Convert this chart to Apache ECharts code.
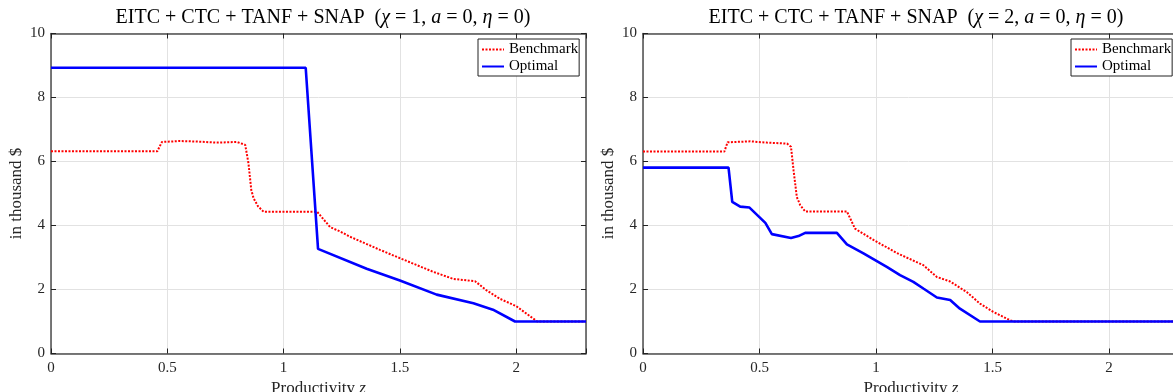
<!DOCTYPE html>
<html>
<head>
<meta charset="utf-8">
<script src="https://cdn.jsdelivr.net/npm/echarts@6/dist/echarts.min.js"></script>
<style>
html,body{margin:0;padding:0;background:#fff;}
#chart{width:1173px;height:392px;}
</style>
</head>
<body>
<div id="chart"></div>
<script>
// ---- data ----
const xTickLabels = ['0', '0.5', '1', '1.5', '2'];
const yTickLabels = ['0', '2', '4', '6', '8', '10'];

const benchLeftZ = [0, 0.457, 0.477, 0.555, 0.64, 0.713, 0.80, 0.835, 0.849, 0.861, 0.871, 0.89, 0.914, 1.144, 1.20, 1.244, 1.285, 1.414, 1.50, 1.644, 1.73, 1.823, 1.873, 1.93, 2.0, 2.081, 2.09, 2.3];
const benchLeftV = [6.32, 6.32, 6.61, 6.64, 6.62, 6.59, 6.61, 6.52, 5.94, 5.11, 4.85, 4.6, 4.43, 4.43, 3.95, 3.81, 3.65, 3.24, 2.98, 2.55, 2.33, 2.26, 1.97, 1.71, 1.48, 1.05, 1.0, 1.0];

const optLeftZ = [0, 1.095, 1.148, 1.357, 1.50, 1.658, 1.816, 1.90, 1.995, 2.3];
const optLeftV = [8.93, 8.93, 3.27, 2.65, 2.28, 1.84, 1.57, 1.37, 1.0, 1.0];

const benchRightZ = [0, 0.349, 0.363, 0.46, 0.532, 0.618, 0.635, 0.646, 0.66, 0.675, 0.696, 0.875, 0.91, 0.989, 1.089, 1.203, 1.261, 1.318, 1.389, 1.446, 1.503, 1.575, 1.59, 2.3];
const benchRightV = [6.31, 6.31, 6.6, 6.63, 6.59, 6.56, 6.46, 5.73, 4.89, 4.63, 4.44, 4.44, 3.9, 3.55, 3.14, 2.76, 2.39, 2.25, 1.92, 1.56, 1.3, 1.04, 1.0, 1.0];

const optRightZ = [0, 0.367, 0.383, 0.417, 0.457, 0.525, 0.553, 0.635, 0.667, 0.696, 0.832, 0.875, 0.946, 1.046, 1.103, 1.16, 1.203, 1.261, 1.318, 1.36, 1.446, 2.3];
const optRightV = [5.81, 5.81, 4.74, 4.59, 4.56, 4.08, 3.73, 3.61, 3.67, 3.77, 3.77, 3.41, 3.13, 2.71, 2.45, 2.24, 2.03, 1.75, 1.67, 1.40, 1.0, 1.0];

const titleChi = ['1', '2'];

// ---- build ----
const pairs = (zs, vs) => zs.map((z, i) => [z, vs[i]]);
const FONT = 'Liberation Serif';
const AX = '#4d4d4d';

function xAxes(gi) {
  return [{
    type: 'value', gridIndex: gi, min: 0, max: 2.3, interval: 0.5, position: 'bottom',
    axisLine: { show: true, onZero: false, lineStyle: { color: AX, width: 1.5 } },
    axisTick: { show: true, inside: true, length: 5, lineStyle: { color: '#222', width: 1 } },
    axisLabel: { fontFamily: FONT, fontSize: 15, color: '#262626', margin: 7,
      formatter: v => { const s = String(+v.toFixed(2)); return xTickLabels.includes(s) ? s : ''; } },
    splitLine: { show: true, lineStyle: { color: '#e2e2e2', width: 1 } },
    name: '{n|Productivity }{i|z}', nameLocation: 'middle', nameGap: 24,
    nameTextStyle: { rich: {
      n: { fontFamily: FONT, fontSize: 17, color: '#262626' },
      i: { fontFamily: FONT, fontSize: 17, fontStyle: 'italic', color: '#262626' } } }
  }, {
    type: 'value', gridIndex: gi, min: 0, max: 2.3, interval: 0.5, position: 'top',
    axisLine: { show: true, onZero: false, lineStyle: { color: AX, width: 1.5 } },
    axisTick: { show: true, inside: true, length: 5, lineStyle: { color: '#222', width: 1 } },
    axisLabel: { show: false }, splitLine: { show: false }
  }];
}
function yAxes(gi) {
  return [{
    type: 'value', gridIndex: gi, min: 0, max: 10, interval: 2, position: 'left',
    axisLine: { show: true, onZero: false, lineStyle: { color: AX, width: 1.5 } },
    axisTick: { show: true, inside: true, length: 5, lineStyle: { color: '#222', width: 1 } },
    axisLabel: { fontFamily: FONT, fontSize: 15, color: '#262626', margin: 6,
      formatter: v => { const s = String(v); return yTickLabels.includes(s) ? s : ''; } },
    splitLine: { show: true, lineStyle: { color: '#e2e2e2', width: 1 } },
    name: 'in thousand $', nameLocation: 'middle', nameGap: 26,
    nameTextStyle: { fontFamily: FONT, fontSize: 17, color: '#262626' }
  }, {
    type: 'value', gridIndex: gi, min: 0, max: 10, interval: 2, position: 'right',
    axisLine: { show: true, onZero: false, lineStyle: { color: AX, width: 1.5 } },
    axisTick: { show: true, inside: true, length: 5, lineStyle: { color: '#222', width: 1 } },
    axisLabel: { show: false }, splitLine: { show: false }
  }];
}
function bench(name, xi, yi, data) {
  return { name: name, type: 'line', xAxisIndex: xi, yAxisIndex: yi, data: data,
    symbol: 'none', showSymbol: false, silent: true, animation: false, z: 2,
    lineStyle: { color: '#ff0000', width: 2, type: [2, 1.5], cap: 'butt' }, itemStyle: { color: '#ff0000' } };
}
function opt(name, xi, yi, data) {
  return { name: name, type: 'line', xAxisIndex: xi, yAxisIndex: yi, data: data,
    symbol: 'none', showSymbol: false, silent: true, animation: false, z: 3,
    lineStyle: { color: '#0000ff', width: 2.6, type: 'solid' }, itemStyle: { color: '#0000ff' } };
}
function titleText(chi) {
  return '{n|EITC + CTC + TANF + SNAP  (}{i|χ}{n| = ' + chi + ', }{i|a}{n| = 0, }{i|η}{n| = 0)}';
}
const titleRich = {
  n: { fontFamily: FONT, fontSize: 20, fontWeight: 'normal', color: '#000' },
  i: { fontFamily: FONT, fontSize: 20, fontWeight: 'normal', fontStyle: 'italic', color: '#000' }
};
function legend(left) {
  return {
    data: ['Benchmark', 'Optimal'], orient: 'vertical', left: left, top: 39,
    padding: [3, 1, 2, 3], itemGap: 2, itemWidth: 22, itemHeight: 14,
    backgroundColor: '#fff', borderColor: '#222', borderWidth: 1, borderRadius: 0,
    selectedMode: false,
    itemStyle: { opacity: 0 },
    textStyle: { fontFamily: FONT, fontSize: 15, color: '#000' }
  };
}

const option = {
  animation: false,
  backgroundColor: '#fff',
  title: [
    { text: titleText(titleChi[0]), left: 318, top: 3, textAlign: 'center', textStyle: { fontWeight: 'normal', rich: titleRich } },
    { text: titleText(titleChi[1]), left: 911, top: 3, textAlign: 'center', textStyle: { fontWeight: 'normal', rich: titleRich } }
  ],
  legend: [legend(478), legend(1071)],
  grid: [
    { left: 51, width: 535, top: 33.5, height: 320, outerBoundsMode: 'none', containLabel: false },
    { left: 643, width: 536, top: 33.5, height: 320, outerBoundsMode: 'none', containLabel: false }
  ],
  xAxis: [...xAxes(0), ...xAxes(1)],
  yAxis: [...yAxes(0), ...yAxes(1)],
  series: [
    bench('Benchmark', 0, 0, pairs(benchLeftZ, benchLeftV)),
    opt('Optimal', 0, 0, pairs(optLeftZ, optLeftV)),
    bench('Benchmark', 2, 2, pairs(benchRightZ, benchRightV)),
    opt('Optimal', 2, 2, pairs(optRightZ, optRightV))
  ]
};
const chart = echarts.init(document.getElementById('chart'), null, { renderer: 'canvas' });
chart.setOption(option);
</script>
</body>
</html>
